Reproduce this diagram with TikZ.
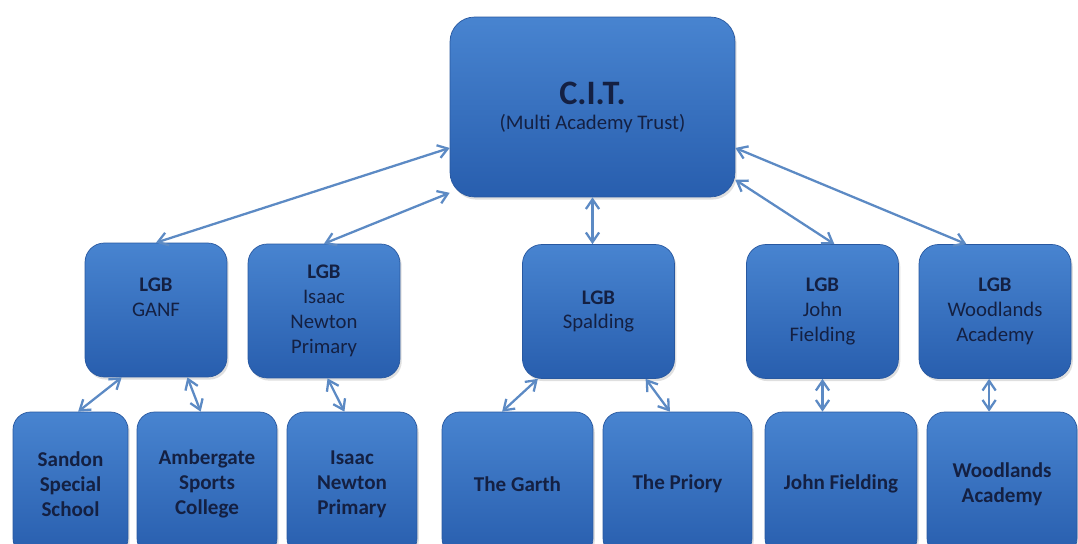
\documentclass[tikz,border=0pt]{standalone}
\usepackage{fontspec}
\setmainfont{Carlito}
\usetikzlibrary{arrows.meta,shadows}
\definecolor{boxtop}{RGB}{72,132,208}
\definecolor{boxbottom}{RGB}{40,94,174}
\definecolor{boxline}{RGB}{40,88,160}
\definecolor{boxtext}{RGB}{20,32,66}
\definecolor{linkblue}{RGB}{92,138,196}
\begin{document}
\begin{tikzpicture}[
		x=0.02cm, y=-0.02cm,
		box/.style={draw=boxline, line width=0.4pt, rounded corners=11pt,
				top color=boxtop, bottom color=boxbottom, text=boxtext,
				align=center, inner sep=2pt, font=\fontsize{11.8}{14.2}\selectfont,
				drop shadow={opacity=0.25, shadow xshift=1pt, shadow yshift=-1.5pt}},
		trust/.style={box, minimum width=5.7cm, minimum height=3.6cm, rounded corners=14pt},
		lgb/.style={box, minimum width=3.04cm, minimum height=2.68cm},
		school/.style={box, minimum height=2.88cm, rounded corners=10pt,
				font=\bfseries\fontsize{12}{14.2}\selectfont},
		link/.style={draw=linkblue, line width=1.3pt,
				{Straight Barb[length=5.5pt,width=7.5pt]}-{Straight Barb[length=5.5pt,width=7.5pt]}}
	]
	\useasboundingbox (0,0) rectangle (1078,544);
	\clip (0,0) rectangle (1078,544);

	\node[trust] (cit) at (592.5,107) {{\fontsize{19.5}{24}\selectfont\bfseries C.I.T.}\\(Multi Academy Trust)};

	\node[lgb, minimum width=2.84cm] (ganf) at (156,310) {\textbf{LGB}\\GANF\\\mbox{}};
	\node[lgb] (isaacl) at (324,311) {\textbf{LGB}\\Isaac\\Newton\\Primary};
	\node[lgb] (spalding) at (598.5,311.5) {\textbf{LGB}\\Spalding};
	\node[lgb] (johnl) at (822.5,311.5) {\textbf{LGB}\\John\\Fielding};
	\node[lgb] (woodl) at (995,311.5) {\textbf{LGB}\\Woodlands\\Academy};

	\node[school, minimum width=2.3cm] (sandon) at (70.5,484) {Sandon\\Special\\School};
	\node[school, minimum width=2.8cm] (amber) at (207,484) {Ambergate\\Sports\\College};
	\node[school, minimum width=2.6cm] (isaacb) at (352,484) {Isaac\\Newton\\Primary};
	\node[school, minimum width=3.02cm] (garth) at (517.5,484) {The Garth};
	\node[school, minimum width=2.98cm] (priory) at (677.5,484) {The Priory};
	\node[school, minimum width=3.04cm] (johnb) at (841,484) {John Fielding};
	\node[school, minimum width=3cm] (woodb) at (1002,484) {Woodlands\\Academy};

	\draw[link] (cit.196) -- (ganf.north);
	\draw[link] (cit.211) -- (isaacl.north);
	\draw[link] (cit.south) -- (cit.south |- spalding.north);
	\draw[link] (cit.333) -- (johnl.80);
	\draw[link] (cit.344) -- (woodl.113);

	\draw[link] (ganf.243) -- (sandon.84);
	\draw[link] (ganf.295) -- (amber.95);
	\draw[link] (isaacl.273) -- (isaacb.96);
	\draw[link] (spalding.228) -- (garth.102);
	\draw[link] (spalding.305) -- (priory.96);
	\draw[link] (johnl.south) -- (johnl.south |- johnb.north);
	\draw[link] (woodl.265) -- (woodl.265 |- woodb.north);
\end{tikzpicture}
\end{document}
